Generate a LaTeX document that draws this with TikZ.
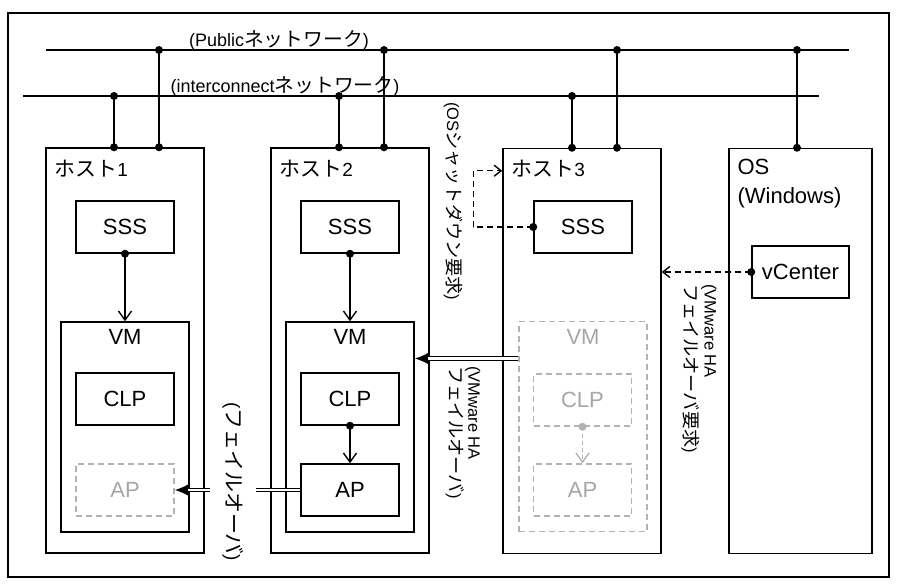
\documentclass[tikz,border=0pt]{standalone}
\usepackage{fontspec}
\setmainfont{Liberation Sans}
\newfontfamily\jp[Scale=1.1]{Noto Sans CJK JP}
\usetikzlibrary{arrows.meta, positioning, calc}

\begin{document}
\begin{tikzpicture}[x=1pt, y=-1pt,
  every node/.style={font=\fontsize{22pt}{26pt}\selectfont},
  host/.style={draw, line width=1.5pt, minimum width=158pt, minimum height=405pt},
  box/.style={draw, line width=1.5pt, minimum width=98pt, minimum height=52pt},
  vmbox/.style={draw, line width=1.5pt, minimum width=128pt, minimum height=210pt},
  ghost/.style={draw=gray!60, text=gray!70, dash pattern=on 6pt off 4pt},
  dot/.style={circle, fill, inner sep=0pt, minimum size=8pt},
  net/.style={line width=1.6pt},
  link/.style={line width=1.4pt, -{Straight Barb[length=9pt, width=13pt]}},
  req/.style={line width=1.4pt, dash pattern=on 6pt off 4pt, -{Straight Barb[length=7pt, width=11pt]}},
  tipline/.style={line width=1.2pt, -{Latex[length=14pt, width=12pt]}},
  dbl/.style={double, double distance=2.5pt, line width=1.2pt, shorten >=13pt},
  lbl/.style={font=\fontsize{16.5pt}{18pt}\selectfont, rotate=-90, anchor=west, align=left, inner sep=0pt},
  hostlbl/.style={anchor=north west, xshift=6pt, yshift=-9pt, font=\fontsize{19pt}{24pt}\selectfont}
]
\useasboundingbox (0,0) rectangle (897,584);
\draw[line width=1.5pt] (8,13) rectangle (889,577);

% networks
\coordinate (pub) at (46,50);
\coordinate (pubE) at (849,50);
\coordinate (inter) at (23,96);
\coordinate (interE) at (819,96);
\draw[net] (pub) -- (pubE);
\draw[net] (inter) -- (interE);
\node[anchor=base, font=\fontsize{18pt}{22pt}\selectfont] (publbl) at (279,46) {(Public{\jp ネットワーク})};
\node[anchor=base, font=\fontsize{18pt}{22pt}\selectfont] (interlbl) at (285,92) {(interconnect{\jp ネットワーク})};

% hosts
\node[host, label={[hostlbl]north west:{\jp ホスト}1}] (host1) at (125,350.5) {};
\node[host, label={[hostlbl]north west:{\jp ホスト}2}] (host2) at (350,350.5) {};
\node[host, label={[hostlbl]north west:{\jp ホスト}3}] (host3) at (582,351) {};
\node[host, minimum width=143pt] (os) at (800.5,351) {};
\node[anchor=north west, align=left, font=\fontsize{22pt}{29pt}\selectfont] (oslbl) at (734,156) {OS\\(Windows)};

\foreach \h/\dx/\n in {host1/-11/inter, host1/34/pub, host2/-11/inter, host2/34/pub,
                       host3/-10/inter, host3/35/pub, os/-3.5/pub}
  \draw[net] ($(\h.north)+(\dx,0)$) coordinate (t) node[dot]{} -- (t |- \n) node[dot]{};

% host1
\node[box] (sss1) at (125,227) {SSS};
\node[vmbox, label={[anchor=north, yshift=-5pt]north:VM}] (vm1) at (125,427) {};
\node[box] (clp1) at (125,399) {CLP};
\node[box, ghost] (ap1) at (125,490) {AP};
\draw[link] (sss1.south) node[dot]{} -- (vm1.north);

% host2
\node[box] (sss2) at (350,227) {SSS};
\node[vmbox, label={[anchor=north, yshift=-5pt]north:VM}] (vm2) at (350,427) {};
\node[box] (clp2) at (350,399) {CLP};
\node[box] (ap2) at (350,490) {AP};
\draw[link] (sss2.south) node[dot]{} -- (vm2.north);
\draw[link] (clp2.south) node[dot]{} -- (ap2.north);

% host3
\node[box] (sss3) at (583,227) {SSS};
\node[vmbox, ghost, label={[anchor=north, yshift=-5pt, text=gray!70]north:VM}] (vm3) at (583,426.5) {};
\node[box, ghost] (clp3) at (582.5,400) {CLP};
\node[box, ghost] (ap3) at (582.5,490) {AP};
\draw[link, gray!60, dash pattern=on 4pt off 3pt] (clp3.south) node[dot, fill=gray!60]{} -- (ap3.north);

% OS
\node[box, minimum width=97pt] (vc) at (800.5,272) {vCenter};

% requests
\draw[req] (sss3.west) node[dot]{} -- ++(-60,0) |- ([yshift=-23pt]host3.north west);
\draw[req] (vc.west) node[dot]{} -- (vc.west -| host3.east);

% failover (double lines)
\coordinate (ha) at ([yshift=68pt]vm3.west);
\draw[tipline] (ha) -- (ha -| vm2.east);
\draw[dbl] (ha) -- (ha -| vm2.east);
\draw[tipline] (ap2.west) -- (ap1.east);
\draw[dbl] (ap2.west) -- (ap1.east);

\node[lbl] (osreq) at (453,102) {(OS{\jp シャットダウン要求})};
\node[lbl] (hafo) at (463,366) {(VMware HA\\{\jp フェイルオーバ})};
\node[lbl] (hareq) at (699,284) {(VMware HA\\{\jp フェイルオーバ要求})};
\node[lbl, font=\fontsize{19pt}{22pt}\selectfont, fill=white, inner ysep=12pt] (fo) at (233,402) {({\jp フェイルオーバ})};
\end{tikzpicture}
\end{document}
